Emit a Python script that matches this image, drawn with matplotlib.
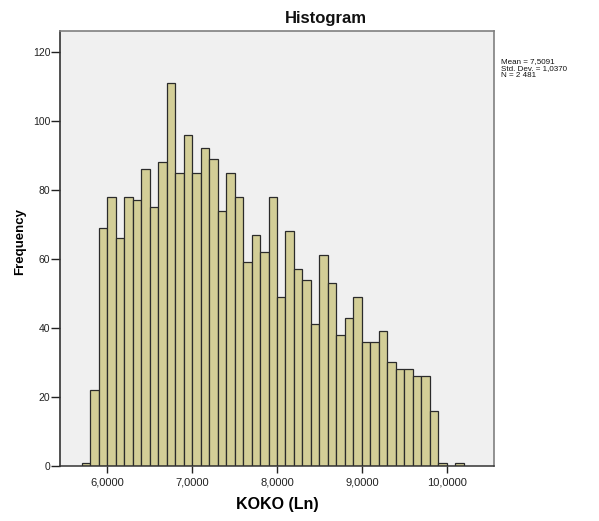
import matplotlib
matplotlib.use("Agg")
import matplotlib.pyplot as plt
import numpy as np

# Histogram data (bin width 0.1, first bin starts at 5.7)
bin_start = 5.7
bin_width = 0.1
counts = [1, 22, 69, 78, 66, 78, 77, 86, 75, 88,
          111, 85, 96, 85, 92, 89, 74, 85, 78, 59,
          67, 62, 78, 49, 68, 57, 54, 41, 61, 53,
          38, 43, 49, 36, 36, 39, 30, 28, 28, 26,
          26, 16, 1, 0, 1]
x_ticks = [6, 7, 8, 9, 10]
x_tick_labels = ["6,0000", "7,0000", "8,0000", "9,0000", "10,0000"]
y_ticks = [0, 20, 40, 60, 80, 100, 120]
stats_lines = ["Mean = 7,5091", "Std. Dev. = 1,0370", "N = 2 481"]

plt.rcParams['font.family'] = ['Liberation Sans', 'DejaVu Sans']

W, H = 599, 521
fig = plt.figure(figsize=(W / 100, H / 100), dpi=100)
fig.patch.set_facecolor('white')
ax = fig.add_axes([60 / W, 1 - 466 / H, 434 / W, 435 / H])
ax.set_facecolor('#F0F0F0')

lefts = bin_start + bin_width * np.arange(len(counts))
ax.bar(lefts, counts, width=bin_width, align='edge', color='#D3CE97',
       edgecolor='#2b2b2b', linewidth=0.9)

ax.set_xlim(5.443, 10.557)
ax.set_ylim(0, 126)
ax.set_xticks(x_ticks)
ax.set_xticklabels(x_tick_labels, fontsize=8, color='#222222')
ax.set_yticks(y_ticks)
ax.set_yticklabels([str(v) for v in y_ticks], fontsize=7.5, color='#222222')
ax.tick_params(axis='y', direction='out', length=6.5, width=1, pad=0.5, color='#222222')
ax.tick_params(axis='x', direction='out', length=5, width=1, pad=3, color='#222222')

for side in ['left', 'top', 'right']:
    ax.spines[side].set_color('#808080')
    ax.spines[side].set_linewidth(1.2)
ax.spines['left'].set_color('#333333')
ax.spines['bottom'].set_color('#333333')
ax.spines['bottom'].set_linewidth(1.1)

ax.set_ylabel("Frequency", fontsize=9.5, fontweight='bold')
ax.yaxis.set_label_coords(-0.078, 0.517)
ax.set_xlabel("KOKO (Ln)", fontsize=11.5, fontweight='bold')
ax.xaxis.set_label_coords(0.5, -0.072)

fig.text(326 / W, 1 - 22.7 / H, "Histogram", fontsize=12, fontweight='bold',
         ha='center', va='baseline', color='#111111')

baselines = [62.7, 70.3, 77.3]
for line, yb in zip(stats_lines, baselines):
    fig.text(501 / W, 1 - yb / H, line, fontsize=5.8, ha='left', va='baseline',
             color='#111111')

fig.savefig("out.png", dpi=100)
